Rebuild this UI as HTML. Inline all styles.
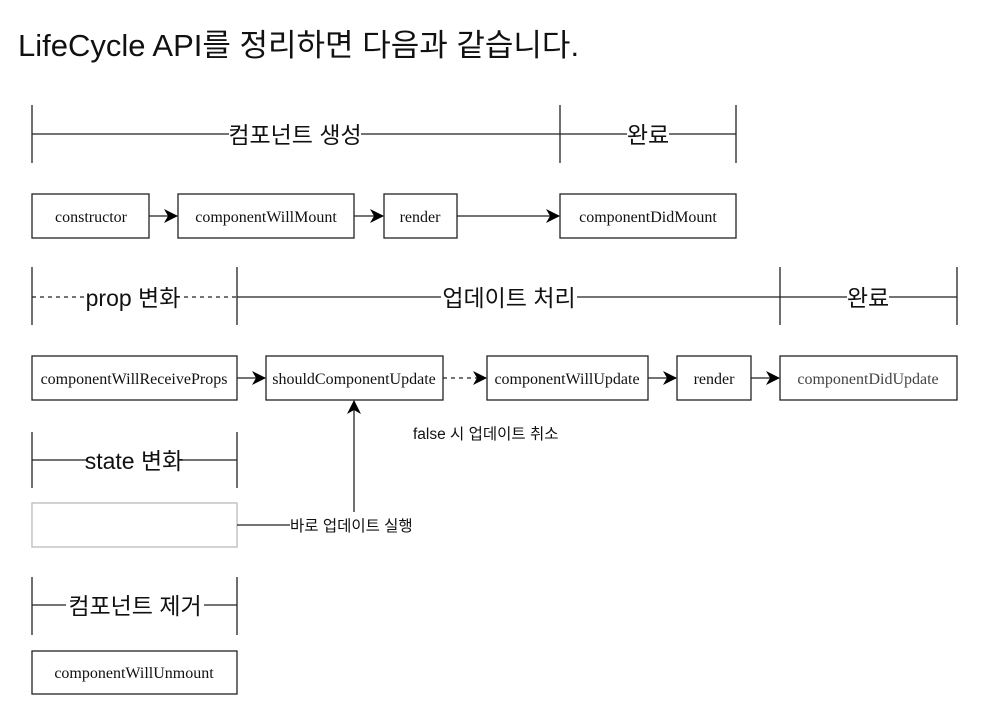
<!DOCTYPE html>
<html><head><meta charset="utf-8"><style>
body{margin:0;background:#fff;width:984px;height:715px;overflow:hidden}
svg{display:block}
.k{font-family:"Liberation Sans","Noto Sans CJK KR",sans-serif;fill:#111}
.s{font-family:"Liberation Serif","Noto Serif CJK SC",serif;font-size:16px;fill:#111}
</style></head><body>
<svg width="984" height="715" viewBox="0 0 984 715">
<defs><marker id="a" markerWidth="14" markerHeight="14" refX="13" refY="7" orient="auto" markerUnits="userSpaceOnUse"><path d="M0,0 L14,7 L0,14 L4,7z" fill="#000"/></marker></defs>
<text x="18" y="56" class="k" style="font-size:31px" fill="#222">LifeCycle API를 정리하면 다음과 같습니다.</text>
<g stroke="#222" stroke-width="1.3" fill="none">
<path d="M32,105V163M560,105V163M736,105V163M32,134H736"/>
<path d="M32,267V325M237,267V325M780,267V325M957,267V325M237,297H957"/>
<path d="M32,297H237" stroke-dasharray="4,4"/>
<path d="M32,432V488M237,432V488M32,460H237"/>
<path d="M32,577V635M237,577V635M32,605H237"/>
<rect x="32" y="194" width="117" height="44"/><rect x="178" y="194" width="176" height="44"/>
<rect x="384" y="194" width="73" height="44"/><rect x="560" y="194" width="176" height="44"/>
<rect x="32" y="356" width="205" height="44"/><rect x="266" y="356" width="177" height="44"/>
<rect x="487" y="356" width="161" height="44"/><rect x="677" y="356" width="74" height="44"/>
<rect x="780" y="356" width="177" height="44"/>
<rect x="32" y="503" width="205" height="44" stroke="#bbb"/>
<rect x="32" y="651" width="205" height="43"/>
<path d="M149,216H177" marker-end="url(#a)"/><path d="M354,216H383" marker-end="url(#a)"/>
<path d="M457,216H559" marker-end="url(#a)"/>
<path d="M237,378H265" marker-end="url(#a)"/><path d="M443,378H486" stroke-dasharray="4,4" marker-end="url(#a)"/>
<path d="M648,378H676" marker-end="url(#a)"/><path d="M751,378H779" marker-end="url(#a)"/>
<path d="M354,512V401" marker-end="url(#a)"/>
<path d="M237,525H290"/>
</g>
<g class="k" style="font-size:23px" text-anchor="middle">
<rect x="229" y="120" width="132" height="28" fill="#fff"/><text x="295" y="143">컴포넌트 생성</text>
<rect x="627" y="120" width="42" height="28" fill="#fff"/><text x="648" y="143">완료</text>
<rect x="88" y="283" width="91" height="28" fill="#fff"/><text x="133" y="306">prop 변화</text>
<rect x="441" y="283" width="136" height="28" fill="#fff"/><text x="509" y="306">업데이트 처리</text>
<rect x="847" y="283" width="42" height="28" fill="#fff"/><text x="868" y="306">완료</text>
<rect x="88" y="446" width="92" height="28" fill="#fff"/><text x="134" y="469">state 변화</text>
<rect x="66" y="591" width="138" height="28" fill="#fff"/><text x="135" y="614">컴포넌트 제거</text>
</g>
<g class="s" text-anchor="middle">
<text x="91" y="222">constructor</text><text x="266" y="222">componentWillMount</text>
<text x="420" y="222">render</text><text x="648" y="222">componentDidMount</text>
<text x="134" y="384">componentWillReceiveProps</text><text x="354" y="384">shouldComponentUpdate</text>
<text x="567" y="384">componentWillUpdate</text><text x="714" y="384">render</text>
<text x="868" y="384" fill="#444">componentDidUpdate</text>
<text x="134" y="678">componentWillUnmount</text>
</g>
<text x="413" y="439" class="k" style="font-size:15.5px">false 시 업데이트 취소</text>
<text x="290" y="531" class="k" style="font-size:15.5px">바로 업데이트 실행</text>
</svg>
</body></html>
